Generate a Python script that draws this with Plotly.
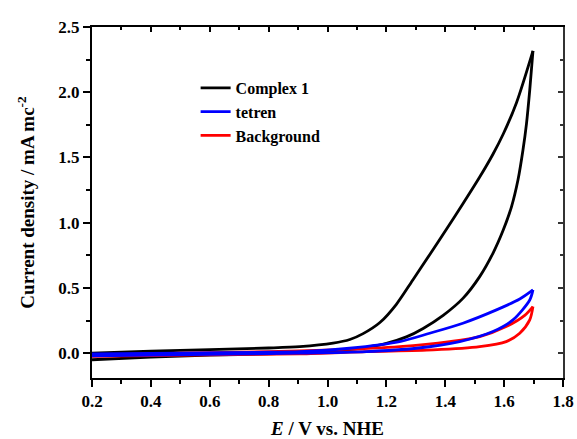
import plotly.graph_objects as go

# Complex 1: outer (anodic) and inner (return) branches
complex_fwd_E = [0.2, 0.4, 0.6, 0.8, 0.906, 1.019, 1.076, 1.121, 1.178, 1.234, 1.291, 1.347, 1.404, 1.46, 1.517, 1.562, 1.597, 1.642, 1.698]
complex_fwd_j = [0.0, 0.015, 0.028, 0.04, 0.05, 0.077, 0.105, 0.15, 0.235, 0.375, 0.565, 0.755, 0.95, 1.145, 1.35, 1.525, 1.68, 1.92, 2.317]
complex_rev_E = [1.698, 1.687, 1.676, 1.664, 1.647, 1.625, 1.597, 1.562, 1.517, 1.46, 1.393, 1.325, 1.268, 1.2, 1.132, 1.05, 0.95, 0.8, 0.6, 0.4, 0.2]
complex_rev_j = [2.317, 2.016, 1.76, 1.557, 1.327, 1.122, 0.944, 0.766, 0.587, 0.42, 0.29, 0.19, 0.125, 0.075, 0.045, 0.022, 0.01, -0.005, -0.015, -0.03, -0.05]

# tetren
tetren_fwd_E = [0.2, 0.5, 0.8, 0.906, 1.075, 1.245, 1.347, 1.46, 1.574, 1.653, 1.698]
tetren_fwd_j = [-0.005, 0.0, 0.008, 0.012, 0.038, 0.089, 0.153, 0.23, 0.332, 0.415, 0.485]
tetren_rev_E = [1.698, 1.687, 1.63, 1.562, 1.449, 1.302, 1.132, 0.906, 0.6, 0.2]
tetren_rev_j = [0.485, 0.408, 0.255, 0.166, 0.089, 0.038, 0.012, 0.0, -0.008, -0.02]

# Background
bg_fwd_E = [0.2, 0.5, 0.8, 1.019, 1.245, 1.415, 1.517, 1.607, 1.67, 1.698]
bg_fwd_j = [-0.015, 0.0, 0.012, 0.025, 0.05, 0.089, 0.127, 0.204, 0.29, 0.357]
bg_rev_E = [1.698, 1.687, 1.653, 1.607, 1.517, 1.359, 1.132, 0.906, 0.6, 0.2]
bg_rev_j = [0.357, 0.255, 0.153, 0.089, 0.05, 0.025, 0.012, -0.005, -0.012, -0.025]

x_ticks = [0.2, 0.4, 0.6, 0.8, 1.0, 1.2, 1.4, 1.6, 1.8]
x_labels = ["0.2", "0.4", "0.6", "0.8", "1.0", "1.2", "1.4", "1.6", "1.8"]
y_ticks = [0.0, 0.5, 1.0, 1.5, 2.0, 2.5]
y_labels = ["0.0", "0.5", "1.0", "1.5", "2.0", "2.5"]

FONT = "Liberation Serif, Times New Roman, serif"
x_range = [0.2, 1.8]
y_range = [-0.19, 2.5]

fig = go.Figure()
series = [
    ("Complex 1", complex_fwd_E, complex_fwd_j, complex_rev_E, complex_rev_j, "black", 1),
    ("Background", bg_fwd_E, bg_fwd_j, bg_rev_E, bg_rev_j, "#ff0000", 3),
    ("tetren", tetren_fwd_E, tetren_fwd_j, tetren_rev_E, tetren_rev_j, "#0000ff", 2),
]
for name, xf, yf, xr, yr, col, rank in series:
    for i, (xs, ys) in enumerate([(xf, yf), (xr, yr)]):
        fig.add_trace(go.Scatter(x=xs, y=ys, mode="lines", name=name, legendgroup=name,
                                 showlegend=(i == 0), legendrank=rank,
                                 line=dict(color=col, width=2.8, shape="spline", smoothing=0.8)))

# mirror axes with inward ticks
fig.add_trace(go.Scatter(x=[], y=[], xaxis="x2", yaxis="y2", showlegend=False, hoverinfo="skip"))

fig.update_layout(
    width=577, height=439,
    margin=dict(l=92, r=14, t=27, b=61),
    paper_bgcolor="white", plot_bgcolor="white",
    font=dict(family=FONT, color="black"),
    showlegend=True,
    legend=dict(x=0.22, y=0.875, xanchor="left", yanchor="top", bgcolor="rgba(0,0,0,0)",
                font=dict(family=FONT, size=16, color="black", weight="bold"),
                tracegroupgap=0, itemwidth=30),
    xaxis=dict(range=x_range, tickvals=x_ticks, ticktext=x_labels, ticks="outside", ticklen=7,
               tickwidth=1.5, tickcolor="black", showline=True, linecolor="black", linewidth=2,
               showgrid=False, zeroline=False, automargin=False,
               tickfont=dict(family=FONT, size=17, weight="bold"),
               minor=dict(dtick=0.1, ticks="outside", ticklen=4, tickwidth=1.5, tickcolor="black"),
               title=dict(text="<i>E</i> / V vs. NHE", font=dict(family=FONT, size=19, weight="bold"), standoff=16)),
    yaxis=dict(range=y_range, tickvals=y_ticks, ticktext=y_labels, ticks="outside", ticklen=7,
               tickwidth=1.5, tickcolor="black", showline=True, linecolor="black", linewidth=2,
               showgrid=False, zeroline=False, automargin=False,
               tickfont=dict(family=FONT, size=17, weight="bold"),
               minor=dict(dtick=0.25, tick0=0, ticks="outside", ticklen=4, tickwidth=1.5, tickcolor="black"),
               title=dict(text="Current density / mA mc<sup>-2</sup>", font=dict(family=FONT, size=19, weight="bold"), standoff=19)),
    xaxis2=dict(range=x_range, overlaying="x", side="top", anchor="y2", tickvals=x_ticks, showticklabels=False,
                ticks="inside", ticklen=5, tickwidth=1.5, tickcolor="black", showline=True, linecolor="black",
                linewidth=2, showgrid=False, zeroline=False,
                minor=dict(dtick=0.1, ticks="inside", ticklen=3, tickwidth=1.5, tickcolor="black")),
    yaxis2=dict(range=y_range, overlaying="y", side="right", anchor="x2", tickvals=y_ticks, showticklabels=False,
                ticks="inside", ticklen=5, tickwidth=1.5, tickcolor="#333", showline=True, linecolor="#333",
                linewidth=2, showgrid=False, zeroline=False,
                minor=dict(dtick=0.25, tick0=0, ticks="inside", ticklen=3, tickwidth=1.5, tickcolor="#333")),
)

fig.write_html("out.html")
